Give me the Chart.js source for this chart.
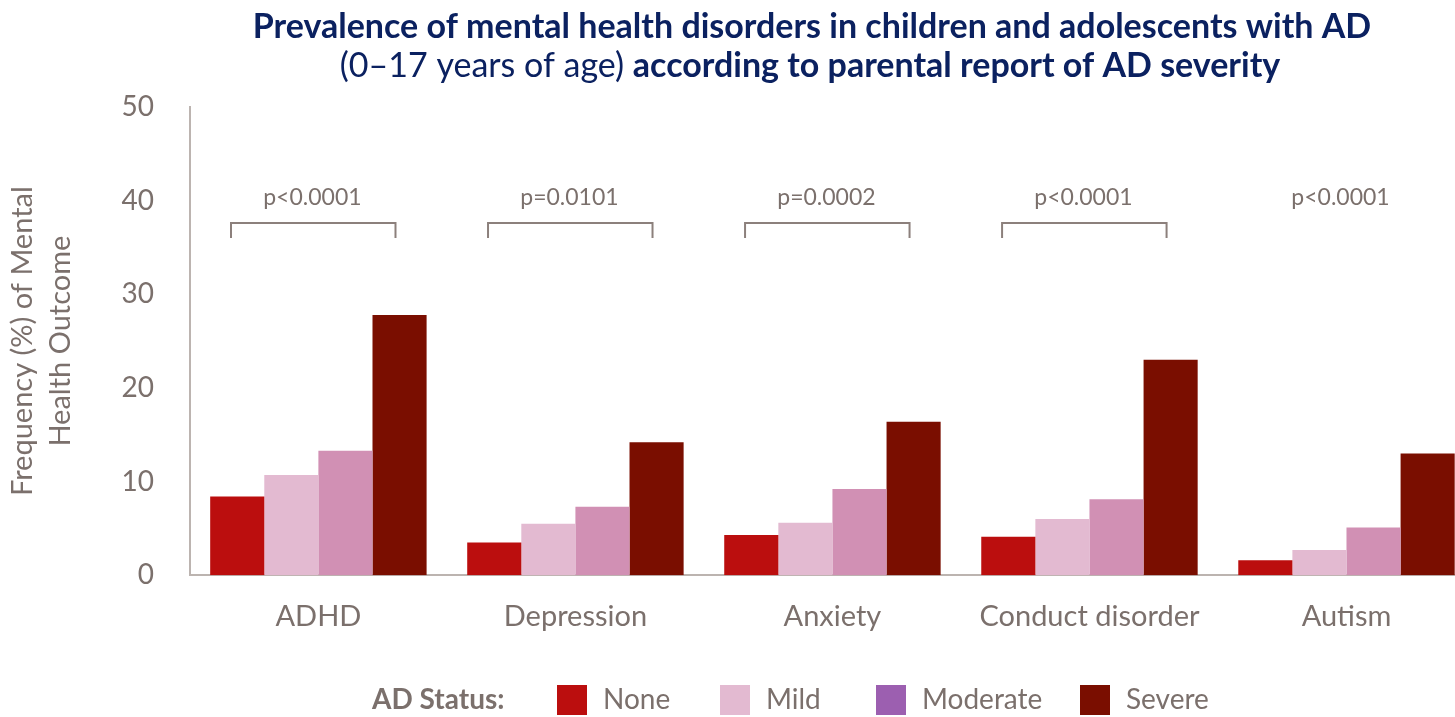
<!DOCTYPE html>
<html>
<head>
<meta charset="utf-8">
<script src="https://cdn.jsdelivr.net/npm/chart.js@4"></script>
<style>
  html, body { margin: 0; padding: 0; background: #fff; overflow: hidden; }
  #wrap { width: 1475px; height: 717px; }
</style>
</head>
<body>
<div id="wrap"><canvas id="myChart" width="1475" height="717"></canvas></div>
<script>
// data
var categories = ["ADHD", "Depression", "Anxiety", "Conduct disorder", "Autism"];
var noneValues = [8.4, 3.5, 4.3, 4.1, 1.6];
var mildValues = [10.7, 5.5, 5.6, 6.0, 2.7];
var moderateValues = [13.3, 7.3, 9.2, 8.1, 5.1];
var severeValues = [27.8, 14.2, 16.4, 23.0, 13.0];
var pLabels = ["p<0.0001", "p=0.0101", "p=0.0002", "p<0.0001", "p<0.0001"];
var showBracket = [true, true, true, true, false];
var yTicks = [0, 10, 20, 30, 40, 50];

var FONT = "Lato, 'Open Sans', sans-serif";
var GREY = "#7b706c";
var NAVY = "#0b2160";

var seriesNames = ["None", "Mild", "Moderate", "Severe"];
var barColors = ["#bb0e0e", "#e3bad1", "#d190b4", "#7a0e00"];
var legendColors = ["#bb0e0e", "#e3bad1", "#9c5fb0", "#7a0e00"];

// title, p-value brackets and legend
var extras = {
  id: "extras",
  afterDraw: function (chart) {
    var ctx = chart.ctx;
    var x = chart.scales.x, y = chart.scales.y;
    ctx.save();

    // title
    ctx.fillStyle = NAVY;
    ctx.textBaseline = "middle";
    ctx.textAlign = "center";
    ctx.font = "bold 34px " + FONT;
    ctx.fillText("Prevalence of mental health disorders in children and adolescents with AD", 812, 27);
    var part1 = "(0\u201317 years of age) ";
    var part2 = "according to parental report of AD severity";
    ctx.font = "34px " + FONT;
    var w1 = ctx.measureText(part1).width;
    ctx.font = "bold 34px " + FONT;
    var w2 = ctx.measureText(part2).width;
    var sx = 810 - (w1 + w2) / 2;
    ctx.textAlign = "left";
    ctx.font = "34px " + FONT;
    ctx.fillText(part1, sx, 66);
    ctx.font = "bold 34px " + FONT;
    ctx.fillText(part2, sx + w1, 66);

    // brackets
    var step = x.getPixelForValue(1) - x.getPixelForValue(0);
    ctx.strokeStyle = "#8c807c";
    ctx.lineWidth = 2;
    ctx.fillStyle = GREY;
    ctx.font = "23px " + FONT;
    ctx.textAlign = "center";
    categories.forEach(function (c, i) {
      var cx = x.getPixelForValue(i);
      if (showBracket[i]) {
        var by = y.getPixelForValue(37.6);
        ctx.beginPath();
        ctx.moveTo(cx - step * 0.34, by + 15);
        ctx.lineTo(cx - step * 0.34, by);
        ctx.lineTo(cx + step * 0.30, by);
        ctx.lineTo(cx + step * 0.30, by + 15);
        ctx.stroke();
      }
      ctx.fillText(pLabels[i], cx - 6, y.getPixelForValue(40.3));
    });

    // legend
    var ly = 700;
    var lx = 372;
    var starts = [557, 720, 876, 1080];
    ctx.textAlign = "left";
    ctx.fillStyle = GREY;
    ctx.font = "bold 28px " + FONT;
    ctx.fillText("AD Status:", lx, ly);
    ctx.font = "28px " + FONT;
    seriesNames.forEach(function (n, i) {
      ctx.fillStyle = legendColors[i];
      ctx.fillRect(starts[i], ly - 15, 30, 30);
      ctx.fillStyle = GREY;
      ctx.fillText(n, starts[i] + 46, ly);
    });
    ctx.restore();
  }
};

var datasets = [noneValues, mildValues, moderateValues, severeValues].map(function (vals, i) {
  return {
    label: seriesNames[i],
    data: vals,
    backgroundColor: barColors[i],
    borderWidth: 0,
    categoryPercentage: 0.842,
    barPercentage: 1.0
  };
});

var ctx = document.getElementById("myChart").getContext("2d");
var myChart = new Chart(ctx, {
  type: "bar",
  data: { labels: categories, datasets: datasets },
  plugins: [extras],
  options: {
    responsive: false,
    animation: false,
    layout: { padding: { top: 107, bottom: 59, left: 4, right: 0 } },
    plugins: {
      legend: { display: false },
      title: { display: false },
      tooltip: { enabled: false }
    },
    scales: {
      x: {
        grid: { display: false, drawTicks: false },
        border: { display: true, color: "#bcb4b0", width: 2 },
        ticks: { color: GREY, font: { family: FONT, size: 29 }, padding: 24 }
      },
      y: {
        min: 0,
        max: 50,
        afterBuildTicks: function (axis) {
          axis.ticks = yTicks.map(function (v) { return { value: v }; });
        },
        grid: { display: false, drawTicks: false },
        border: { display: true, color: "#bcb4b0", width: 2 },
        ticks: { color: GREY, font: { family: FONT, size: 28 }, padding: 36 },
        title: {
          display: true,
          text: ["Frequency (%) of Mental", "Health Outcome"],
          color: GREY,
          font: { family: FONT, size: 29, lineHeight: 1.3 },
          padding: { top: 0, bottom: 6 }
        }
      }
    }
  }
});
</script>
</body>
</html>
